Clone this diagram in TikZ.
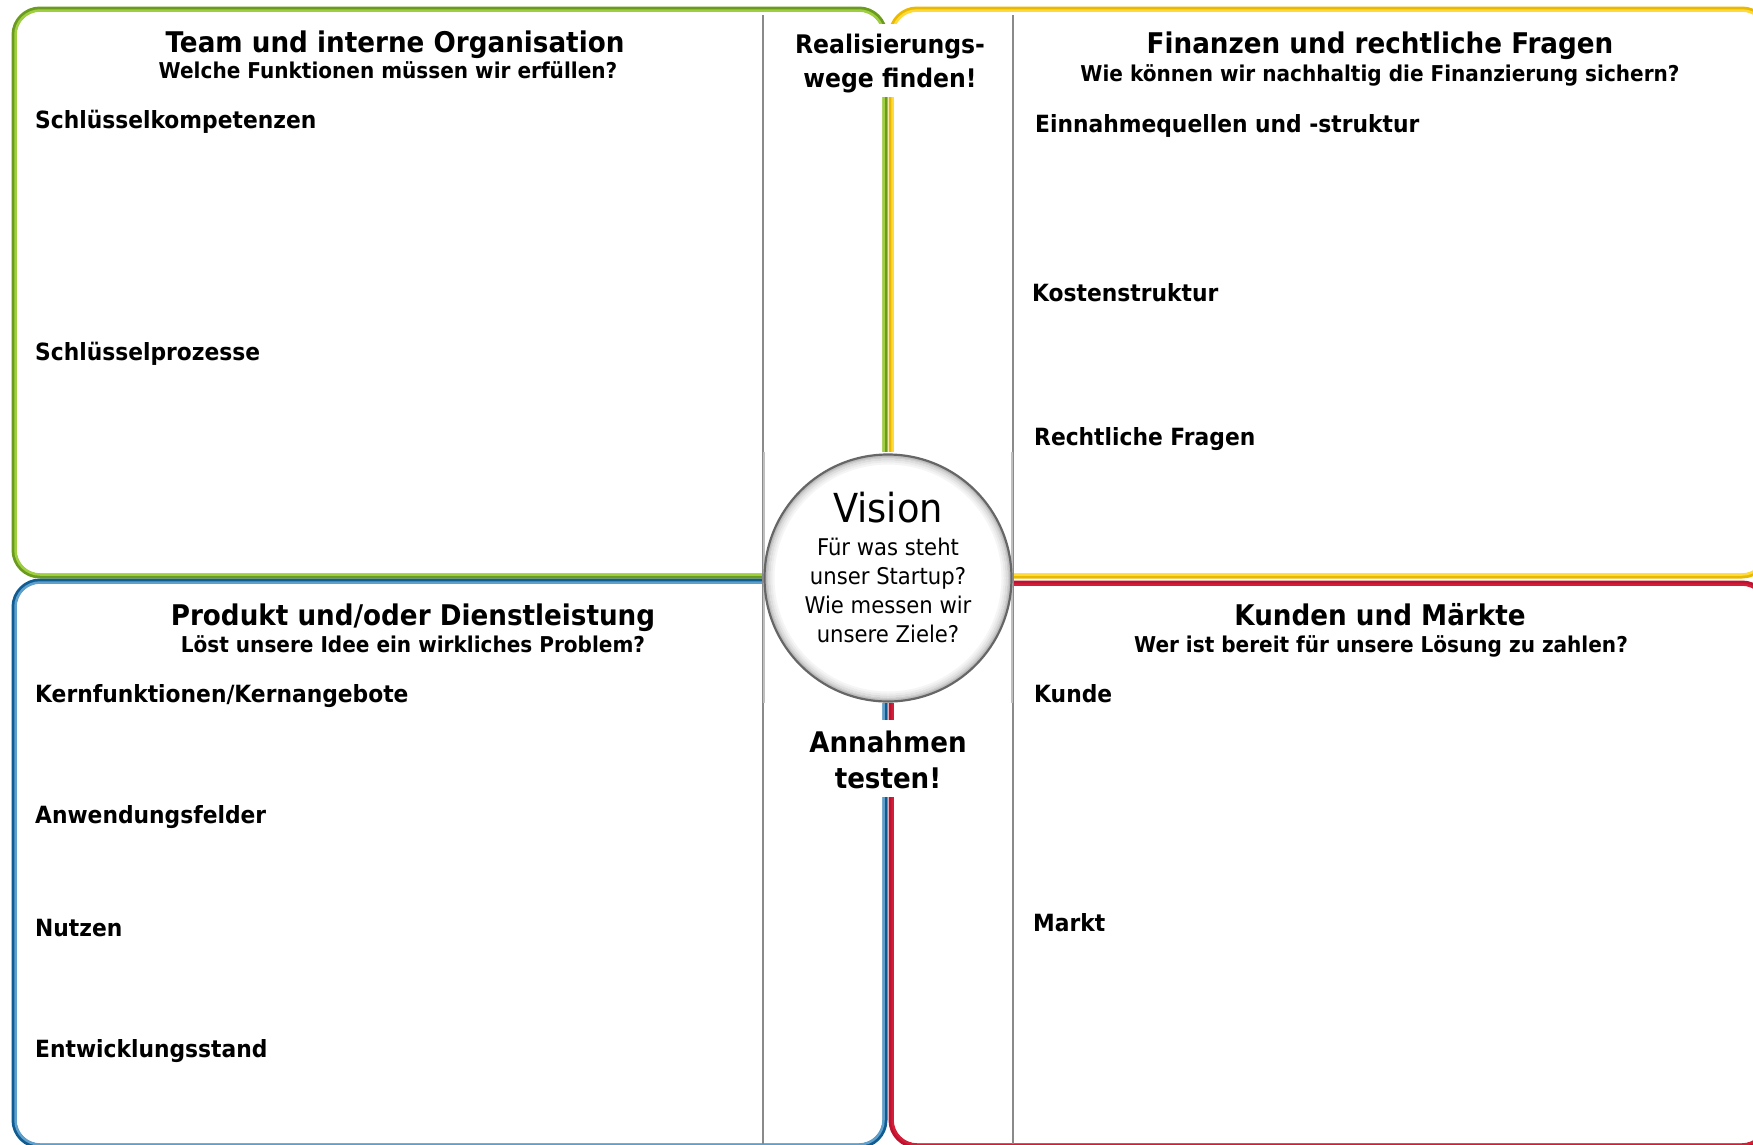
\documentclass[tikz,border=0pt]{standalone}
\usepackage{fontspec}
\setmainfont{DejaVu Sans}[FakeStretch=0.92]
\definecolor{gdark}{HTML}{6A9A1E}
\definecolor{glight}{HTML}{9FCF3E}
\definecolor{ydark}{HTML}{E9B900}
\definecolor{ylight}{HTML}{FFDA3A}
\definecolor{bdark}{HTML}{0F5C92}
\definecolor{blight}{HTML}{5E9FCC}
\definecolor{rdark}{HTML}{BE1230}
\definecolor{rlight}{HTML}{D21E36}
\definecolor{stripgray}{HTML}{8A8A8A}
\begin{document}
\begin{tikzpicture}[x=1pt,y=-1pt,
  boxouter/.style={line width=5pt, rounded corners=26pt},
  boxinner/.style={line width=2.5pt, rounded corners=24.5pt},
  title/.style={font=\fontsize{28.5}{32}\selectfont\bfseries, anchor=base, inner sep=0pt},
  subtitle/.style={font=\fontsize{21.8}{24}\selectfont\bfseries, anchor=base, inner sep=0pt},
  item/.style={font=\fontsize{23.7}{28}\selectfont\bfseries, anchor=base west, inner sep=0pt},
  striplabel/.style={font=\fontsize{25.6}{30}\selectfont\bfseries, anchor=base, inner sep=0pt},
  testlabel/.style={font=\fontsize{28.4}{32}\selectfont\bfseries, anchor=base, inner sep=0pt},
  visiontext/.style={font=\fontsize{23}{27}\selectfont, anchor=base, inner sep=0pt},
  whitepatch/.style={fill=white, draw=none, inner sep=0pt, rectangle},
  glowring/.style={line width=2pt}
]
\useasboundingbox (0,0) rectangle (1753,1144);
\clip (0,0) rectangle (1753,1144);
\fill[white] (0,0) rectangle (1753,1144);

% quadrant boxes
\draw[boxouter, gdark] (14,9) rectangle (885,576);
\draw[boxinner, glight] (15.5,10.5) rectangle (883.5,574.5);
\draw[boxouter, ydark] (891,9) rectangle (1768,576);
\draw[boxinner, ylight] (892.5,10.5) rectangle (1766.5,574.5);
\draw[boxouter, bdark] (14,581) rectangle (885,1146);
\draw[boxinner, blight] (15.5,582.5) rectangle (883.5,1144.5);
\draw[boxouter, rdark] (891,583) rectangle (1768,1146);
\draw[boxinner, rlight] (892.5,584.5) rectangle (1766.5,1144.5);

% central strip lines
\draw[stripgray, line width=2pt] (763,15) -- (763,1144);
\draw[stripgray, line width=2pt] (1013,15) -- (1013,1144);

% white field behind the vision circle
\node[whitepatch, minimum width=248pt, minimum height=251pt] (visionfield) at (888,577.5) {};
\draw[black!25, line width=1.5pt] (visionfield.north west) -- (visionfield.south west);
\draw[black!25, line width=1.5pt] (visionfield.north east) -- (visionfield.south east);

% strip labels on white patches
\node[whitepatch, minimum width=205pt, minimum height=73pt] (realpatch) at (888,60.5) {};
\node[striplabel] (real1) at (890,53) {Realisierungs-};
\node[striplabel] (real2) at (890,87) {wege finden!};
\node[whitepatch, minimum width=205pt, minimum height=77pt] (testpatch) at (888,758.5) {};
\node[testlabel] (test1) at (888,752) {Annahmen};
\node[testlabel] (test2) at (888,788) {testen!};

% vision circle with a soft inner glow
\node[circle, minimum size=248pt, inner sep=0pt, fill=white] (vision) at (888,578) {};
\draw[glowring, black!4] (vision.center) circle[radius=114.5];
\draw[glowring, black!8] (vision.center) circle[radius=116.5];
\draw[glowring, black!13] (vision.center) circle[radius=118.5];
\draw[glowring, black!19] (vision.center) circle[radius=120.5];
\draw[glowring, black!26] (vision.center) circle[radius=122];
\draw[black!60, line width=2.2pt] (vision.center) circle[radius=123.5];
\node[font=\fontsize{40}{44}\selectfont, anchor=base, inner sep=0pt] (visiontitle) at (888,522) {Vision};
\node[visiontext] (v1) at (888,555) {Für was steht};
\node[visiontext] (v2) at (888,584) {unser Startup?};
\node[visiontext] (v3) at (888,613) {Wie messen wir};
\node[visiontext] (v4) at (888,642) {unsere Ziele?};

% top left
\node[title] (tl) at (395,52) {Team und interne Organisation};
\node[subtitle] (tls) at (388,78) {Welche Funktionen müssen wir erfüllen?};
\node[item] (tl1) at (35,128) {Schlüsselkompetenzen};
\node[item] (tl2) at (35,360) {Schlüsselprozesse};

% top right
\node[title] (tr) at (1380,53) {Finanzen und rechtliche Fragen};
\node[subtitle] (trs) at (1380,81) {Wie können wir nachhaltig die Finanzierung sichern?};
\node[item] (tr1) at (1035,132) {Einnahmequellen und -struktur};
\node[item] (tr2) at (1032,301.5) {Kostenstruktur};
\node[item] (tr3) at (1034,445.5) {Rechtliche Fragen};

% bottom left
\node[title] (bl) at (413,625) {Produkt und/oder Dienstleistung};
\node[subtitle] (bls) at (413,652) {Löst unsere Idee ein wirkliches Problem?};
\node[item] (bl1) at (35,702.5) {Kernfunktionen/Kernangebote};
\node[item] (bl2) at (35,823.5) {Anwendungsfelder};
\node[item] (bl3) at (35,936.5) {Nutzen};
\node[item] (bl4) at (35,1057) {Entwicklungsstand};

% bottom right
\node[title] (br) at (1380,625) {Kunden und Märkte};
\node[subtitle] (brs) at (1381,652) {Wer ist bereit für unsere Lösung zu zahlen?};
\node[item] (br1) at (1034,702.5) {Kunde};
\node[item] (br2) at (1033,931.5) {Markt};
\end{tikzpicture}
\end{document}
